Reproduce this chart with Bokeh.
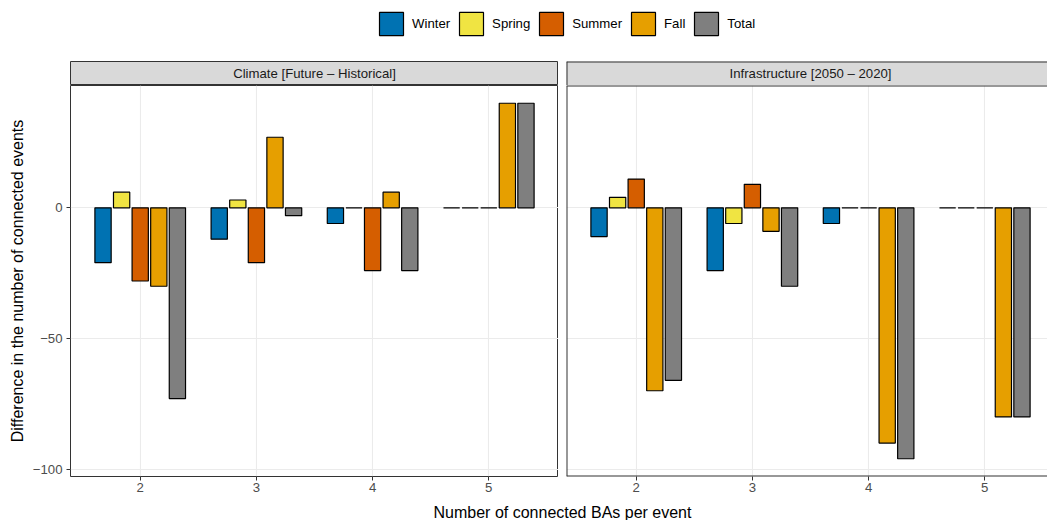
from bokeh.plotting import figure
from bokeh.layouts import column, row
from bokeh.models import (ColumnDataSource, Legend, LegendItem, Label, FixedTicker,
                          Range1d, Span)
from bokeh.transform import dodge
from bokeh.embed import file_html
from bokeh.resources import INLINE

# ---------------- data ----------------
ba = [2, 3, 4, 5]
ba_labels = ["2", "3", "4", "5"]
seasons = ["Winter", "Spring", "Summer", "Fall", "Total"]
colors = ["#0072B2", "#F0E442", "#D55E00", "#E69F00", "#7F7F7F"]
panel_titles = ["Climate [Future \u2013 Historical]", "Infrastructure [2050 \u2013 2020]"]

climate_winter = [-21, -12, -6, 0]
climate_spring = [6, 3, 0, 0]
climate_summer = [-28, -21, -24, 0]
climate_fall = [-30, 27, 6, 40]
climate_total = [-73, -3, -24, 40]

infra_winter = [-11, -24, -6, 0]
infra_spring = [4, -6, 0, 0]
infra_summer = [11, 9, 0, 0]
infra_fall = [-70, -9, -90, -80]
infra_total = [-66, -30, -96, -80]

ytick_values = [-100, -50, 0]
ytick_labels = ["\u2212100", "\u221250", "0"]

x_title = "Number of connected BAs per event"
y_title = "Difference in the number of connected events"

# ---------------- style ----------------
FONT = "Liberation Sans"
SMALL = "13.2px"
BIG = "16px"
FRAME_H = 391
FULL_W = 488            # width of a whole panel
P2_W = 481              # visible part of the right-hand panel
TOTAL_W = 70 + FULL_W + 8 + P2_W
PX_PER_UNIT = FULL_W / 4.2
BORDER = "#333333"


def make_source(vals):
    data = dict(ba=ba)
    for s, v in zip(seasons, vals):
        data[s] = v
    return ColumnDataSource(data)


def add_bars(p, src):
    rs = []
    for j, s in enumerate(seasons):
        r = p.vbar(x=dodge("ba", (j - 2) * 0.16, range=p.x_range), top=s, bottom=0,
                   width=0.14, source=src, fill_color=colors[j],
                   line_color="black", line_width=1.2)
        rs.append(r)
    return rs


def open_right_border(p, bottom=True):
    # the right-hand panel runs past the picture's edge: no right border
    p.outline_line_color = None
    p.add_layout(Span(location=p.y_range.end, dimension="width", line_color=BORDER, line_width=2))
    if bottom:
        p.add_layout(Span(location=p.y_range.start, dimension="width", line_color=BORDER, line_width=2))
    p.add_layout(Span(location=p.x_range.start, dimension="height", line_color=BORDER, line_width=2))


def make_panel(src, frame_w, left_border, show_y):
    x_end = 1.4 + frame_w / PX_PER_UNIT
    p = figure(frame_width=frame_w, frame_height=FRAME_H,
               x_range=Range1d(1.4, x_end), y_range=Range1d(-102.8, 46.8),
               output_backend="svg", toolbar_location=None,
               min_border_left=left_border, min_border_right=0,
               min_border_top=0, min_border_bottom=21)
    p.background_fill_color = "white"
    p.border_fill_color = "white"
    p.outline_line_color = BORDER
    p.outline_line_width = 1
    add_bars(p, src)
    # x axis
    xa = p.xaxis[0]
    xa.ticker = FixedTicker(ticks=ba)
    xa.major_label_overrides = dict(zip(ba, ba_labels))
    xa.axis_line_color = None
    xa.major_tick_line_color = BORDER
    xa.major_tick_out = 4
    xa.major_tick_in = 0
    xa.minor_tick_line_color = None
    xa.major_label_text_font = FONT
    xa.major_label_text_font_size = SMALL
    xa.major_label_text_color = "#4D4D4D"
    xa.major_label_standoff = 2
    # y axis
    ya = p.yaxis[0]
    ya.ticker = FixedTicker(ticks=ytick_values)
    ya.major_label_overrides = dict(zip(ytick_values, ytick_labels))
    ya.axis_line_color = None
    ya.minor_tick_line_color = None
    if show_y:
        ya.major_tick_line_color = BORDER
        ya.major_tick_out = 4
        ya.major_tick_in = 0
        ya.major_label_text_font = FONT
        ya.major_label_text_font_size = SMALL
        ya.major_label_text_color = "#4D4D4D"
        ya.major_label_standoff = 4
        ya.axis_label = y_title
        ya.axis_label_text_font = FONT
        ya.axis_label_text_font_size = BIG
        ya.axis_label_text_font_style = "normal"
        ya.axis_label_text_color = "black"
        ya.axis_label_standoff = 4
    else:
        ya.visible = False
    p.xgrid.ticker = FixedTicker(ticks=ba)
    p.ygrid.ticker = FixedTicker(ticks=ytick_values)
    p.grid.grid_line_color = "#EBEBEB"
    p.grid.grid_line_width = 1.1
    p.grid.minor_grid_line_color = None
    return p


def make_strip(title, frame_w, left_border):
    s = figure(frame_width=frame_w, frame_height=24,
               x_range=Range1d(0, frame_w / FULL_W), y_range=Range1d(0, 1),
               output_backend="svg", toolbar_location=None,
               min_border_left=left_border, min_border_right=0,
               min_border_top=0, min_border_bottom=0,
               x_axis_location=None, y_axis_location=None)
    s.background_fill_color = "#D9D9D9"
    s.border_fill_color = "white"
    s.outline_line_color = BORDER
    s.outline_line_width = 1
    s.grid.visible = False
    s.add_layout(Label(x=0.5, y=0.5, text=title, text_align="center",
                       text_baseline="middle", text_font=FONT,
                       text_font_size=SMALL, text_color="#1A1A1A"))
    return s


climate_src = make_source([climate_winter, climate_spring, climate_summer, climate_fall, climate_total])
infra_src = make_source([infra_winter, infra_spring, infra_summer, infra_fall, infra_total])

p1 = make_panel(climate_src, FULL_W, 70, True)
p2 = make_panel(infra_src, P2_W, 8, False)
s1 = make_strip(panel_titles[0], FULL_W, 70)
s2 = make_strip(panel_titles[1], P2_W, 8)
open_right_border(p2)
open_right_border(s2, bottom=False)

# legend figure (its bars lie far outside its ranges; only the legend shows)
leg = figure(frame_width=TOTAL_W, frame_height=61, min_border=0,
             x_range=Range1d(0, 1), y_range=Range1d(1000, 1001),
             x_axis_location=None, y_axis_location=None,
             output_backend="svg", toolbar_location=None)
leg.outline_line_color = None
leg.grid.visible = False
rends = add_bars(leg, climate_src)
legend = Legend(items=[LegendItem(label=s, renderers=[r]) for s, r in zip(seasons, rends)],
                orientation="horizontal", location=(376, 23),
                glyph_width=30, glyph_height=29, label_height=29,
                label_standoff=6, spacing=6, padding=0, margin=0,
                border_line_color=None, background_fill_alpha=0,
                label_text_font=FONT, label_text_font_size=SMALL,
                label_text_color="black")
leg.add_layout(legend, "center")

# x axis title figure
xt = figure(frame_width=TOTAL_W, frame_height=23, min_border=0,
            x_range=Range1d(0, 1), y_range=Range1d(0, 1),
            x_axis_location=None, y_axis_location=None,
            output_backend="svg", toolbar_location=None)
xt.outline_line_color = None
xt.grid.visible = False
xt.add_layout(Label(x=562, y=8, x_units="screen", y_units="screen", text=x_title,
                    text_align="center", text_baseline="alphabetic",
                    text_font=FONT, text_font_size=BIG, text_color="black"))

layout = column(leg, row(column(s1, p1, spacing=0), column(s2, p2, spacing=0), spacing=0),
                xt, spacing=0)

open("out.html", "w").write(file_html(layout, INLINE))
